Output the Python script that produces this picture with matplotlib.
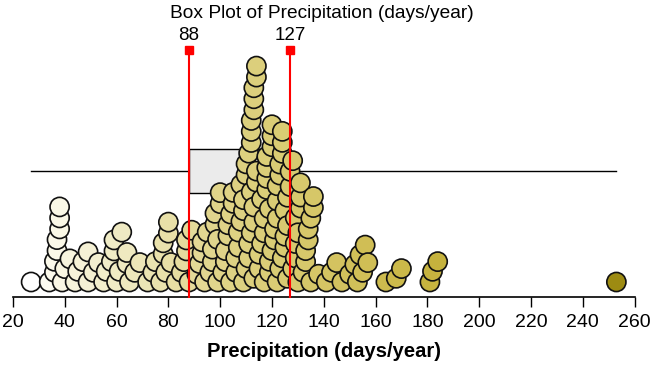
import numpy as np
import matplotlib
matplotlib.use("Agg")
import matplotlib.pyplot as plt
from matplotlib.colors import LinearSegmentedColormap

plt.rcParams['font.family'] = ['Liberation Sans', 'DejaVu Sans']

# ---- data (days/year) ----
precip_days = [
    27,
    34, 36, 36, 37, 37, 38, 38, 38, 39, 40, 42,
    44, 45, 47, 49, 49, 51,
    53, 55, 56,
    58, 59, 59, 60, 61, 62, 64,
    64, 65, 67, 69,
    72, 74, 75,
    77, 78, 78, 79, 80, 80, 81,
    83, 85, 86, 87, 87, 88, 89,
    91, 92, 93, 93, 94, 95,
    96, 97, 97, 98, 98, 99, 99, 100, 100,
    101, 102, 102, 103, 103, 104, 104, 105, 105, 106, 106, 107, 107,
    108, 108, 109, 109, 109, 110, 110, 110, 111, 111, 111,
    112, 112, 112, 112, 112, 113, 113, 113, 113, 113, 113,
    114, 114, 114, 114, 115, 115,
    116, 116, 117, 117, 117, 118, 118, 118, 118, 119, 119, 119, 120, 120, 120, 120,
    121, 121, 122, 122, 122, 122, 123, 123, 123, 124, 124, 124, 124, 125, 125, 125,
    126, 126, 126, 127, 127,
    128, 128, 129, 129, 129, 130, 130, 131, 131, 131,
    132, 133, 133, 134, 134, 135, 135, 136, 136, 138,
    141, 143, 145,
    147, 150, 152, 153, 154, 155, 156, 157,
    164, 168, 170,
    181, 182, 184,
    253,
]
box_min, box_q1, box_median, box_q3, box_max = 27, 88, 113, 127, 253
marked_values = [88, 127]
x_ticks = list(range(20, 261, 20))

title = "Box Plot of Precipitation (days/year)"
x_label = "Precipitation (days/year)"

# ---- layout (pixel based) ----
W, H, DPI = 655, 367, 100
px_left, px_right = 13, 634.5
px_axis_y, px_top = 297, 40
xmin, xmax = 20, 260
ppu = (px_right - px_left) / (xmax - xmin)          # pixels per data unit
ytop = (px_axis_y - px_top) / ppu

fig = plt.figure(figsize=(W / DPI, H / DPI), dpi=DPI)
ax = fig.add_axes([px_left / W, (H - px_axis_y) / H,
                   (px_right - px_left) / W, (px_axis_y - px_top) / H])
ax.set_xlim(xmin, xmax)
ax.set_ylim(0, ytop)


def swarm_offsets(vals, dist):
    vals = np.asarray(vals, dtype=float)
    order = np.argsort(vals, kind="stable")
    px, py = [], []
    ys = np.zeros(len(vals))
    for i in order:
        x = vals[i]
        cands = [0.0]
        if px:
            ax_ = np.array(px)
            ay_ = np.array(py)
            near = np.abs(ax_ - x) < dist
            nx, ny = ax_[near], ay_[near]
            for xj, yj in zip(nx, ny):
                h = np.sqrt(max(dist * dist - (xj - x) ** 2, 0))
                cands.append(yj + h)
        else:
            nx = ny = np.array([])
        y_sel = 0.0
        for c in sorted(cands):
            if c < 0:
                continue
            if len(nx) == 0 or np.all((nx - x) ** 2 + (ny - c) ** 2 >= dist * dist - 1e-6):
                y_sel = c
                break
        ys[i] = y_sel
        px.append(x)
        py.append(y_sel)
    return ys


collide = 11.0 / ppu
base = 15.0 / ppu
yoff = swarm_offsets(precip_days, collide) + base

cmap = LinearSegmentedColormap.from_list("prec", [
    (0.0, "#FFFFFF"),
    ((40 - 27) / 226, "#F9F6E0"),
    ((60 - 27) / 226, "#F0EBC5"),
    ((80 - 27) / 226, "#E8E0A8"),
    ((100 - 27) / 226, "#E0D48A"),
    ((120 - 27) / 226, "#DACD76"),
    ((140 - 27) / 226, "#D5C565"),
    ((160 - 27) / 226, "#CFBD52"),
    ((185 - 27) / 226, "#C5B23C"),
    (1.0, "#9D8B12"),
])

# box plot (behind dots)
box_lo = (px_axis_y - 193) / ppu
box_hi = (px_axis_y - 149) / ppu
whisk_y = (px_axis_y - 171) / ppu
ax.plot([box_min, box_max], [whisk_y, whisk_y], color="black", lw=1.0, zorder=1)
ax.fill_between([box_q1, box_q3], box_lo, box_hi, facecolor="#EBEBEB",
                edgecolor="black", lw=1.0, zorder=1.5)
ax.plot([box_median, box_median], [box_lo, box_hi], color="black", lw=1.0, zorder=1.6)

# dots
order = np.argsort(precip_days, kind="stable")
vals = np.asarray(precip_days, float)
ax.scatter(vals[order], yoff[order], s=190, c=vals[order], cmap=cmap,
           vmin=box_min, vmax=box_max, edgecolors="#111111", linewidths=1.2,
           zorder=3, clip_on=False)

# quartile markers
sq_y = (px_axis_y - 50) / ppu
lab_y = (px_axis_y - 35) / ppu
for v in marked_values:
    ax.plot([v, v], [0, sq_y], color="#FF0000", lw=1.5, zorder=4, clip_on=False)
    ax.plot([v], [sq_y], marker="s", ms=6, color="#FF0000", zorder=5, clip_on=False)
    ax.text(v, lab_y, str(v), ha="center", va="center", fontsize=13.5, clip_on=False)

# axes styling
for s in ["top", "left", "right"]:
    ax.spines[s].set_visible(False)
ax.spines["bottom"].set_linewidth(1.2)
ax.set_yticks([])
ax.set_xticks(x_ticks)
ax.tick_params(axis="x", direction="out", length=7, width=1.0, pad=5, labelsize=14)
ax.set_xlabel(x_label, fontsize=14.5, fontweight="bold", labelpad=8)

fig.text(322 / W, 1 - 14 / H, title, ha="center", va="center", fontsize=13.8)

fig.savefig("out.png", dpi=DPI)
